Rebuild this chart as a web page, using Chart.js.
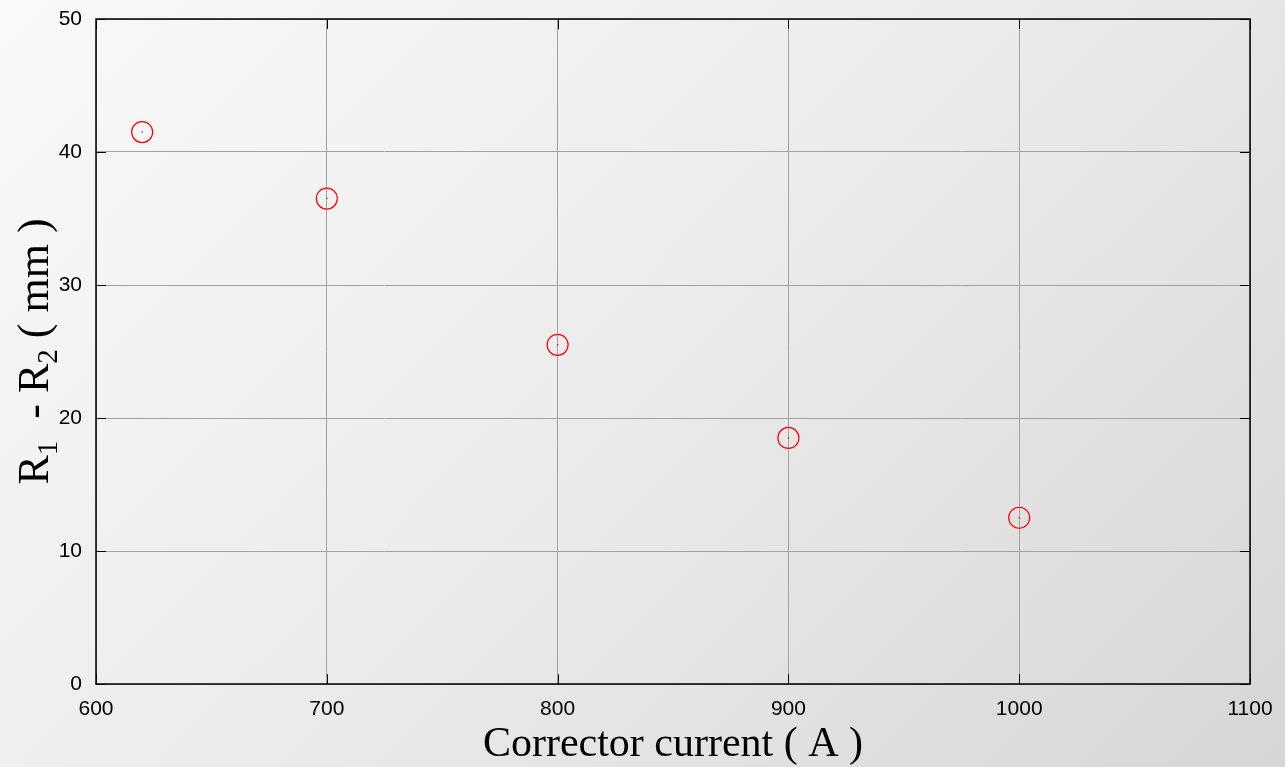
<!DOCTYPE html>
<html>
<head>
<meta charset="utf-8">
<script src="https://cdn.jsdelivr.net/npm/chart.js@4/dist/chart.umd.min.js"></script>
<style>
  html, body { margin: 0; padding: 0; }
  body {
    width: 1285px; height: 767px; overflow: hidden;
    background: linear-gradient(135deg, #f9f9f9 0%, #ebebeb 50%, #d6d6d6 100%);
  }
  #wrap { width: 1285px; height: 767px; position: relative; }
</style>
</head>
<body>
<div id="wrap"><canvas id="chart"></canvas></div>
<script>
const currentA = [620, 700, 800, 900, 1000];
const deltaR = [41.5, 36.5, 25.5, 18.5, 12.5];

const xTicks = [600, 700, 800, 900, 1000, 1100];
const yTicks = [0, 10, 20, 30, 40, 50];

const xTitle = 'Corrector current ( A )';
// y title pieces: [text, isSubscript]
const yTitleParts = [['R', false], ['1', true], ['  - R', false], ['2', true], [' ( mm )', false]];

const points = currentA.map((x, i) => ({ x: x, y: deltaR[i] }));

// frame, inner ticks and rotated y title with subscripts
const framePlugin = {
    id: 'frame',
    afterDraw(chart) {
        const { ctx, chartArea: a, scales } = chart;
        ctx.save();
        ctx.strokeStyle = '#000';
        ctx.lineWidth = 1;
        ctx.beginPath();
        yTicks.forEach(v => {
            const y = Math.round(scales.y.getPixelForValue(v)) + 0.5;
            ctx.moveTo(a.left, y); ctx.lineTo(a.left + 10, y);
            ctx.moveTo(a.right, y); ctx.lineTo(a.right - 10, y);
        });
        xTicks.forEach(v => {
            const x = Math.round(scales.x.getPixelForValue(v)) + 0.5;
            ctx.moveTo(x, a.bottom); ctx.lineTo(x, a.bottom - 10);
            ctx.moveTo(x, a.top); ctx.lineTo(x, a.top + 10);
        });
        ctx.stroke();
        ctx.lineWidth = 1.5;
        ctx.strokeRect(a.left, a.top, a.right - a.left, a.bottom - a.top);

        // y title
        const big = '44px "Liberation Serif", "Times New Roman", serif';
        const small = '29px "Liberation Serif", "Times New Roman", serif';
        let total = 0;
        yTitleParts.forEach(([t, sub]) => {
            ctx.font = sub ? small : big;
            total += ctx.measureText(t).width;
        });
        ctx.translate(48, (a.top + a.bottom) / 2);
        ctx.rotate(-Math.PI / 2);
        ctx.fillStyle = '#000';
        ctx.textBaseline = 'alphabetic';
        let cx = -total / 2;
        yTitleParts.forEach(([t, sub]) => {
            ctx.font = sub ? small : big;
            ctx.fillText(t, cx, sub ? 9 : 0);
            cx += ctx.measureText(t).width;
        });
        ctx.restore();
    }
};

const tickFont = { family: '"Liberation Sans", Arial, Helvetica, sans-serif', size: 21 };

new Chart(document.getElementById('chart').getContext('2d'), {
    type: 'scatter',
    data: {
        datasets: [
            {
                label: 'R1 - R2',
                data: points,
                pointStyle: 'circle',
                pointRadius: 10.5,
                pointHoverRadius: 10.5,
                borderColor: '#ff0000',
                backgroundColor: 'rgba(0,0,0,0)',
                borderWidth: 1.2
            },
            {
                label: 'centre',
                data: points,
                pointRadius: 0.8,
                pointHoverRadius: 0.8,
                borderColor: '#ff0000',
                backgroundColor: '#ff0000',
                borderWidth: 0
            }
        ]
    },
    options: {
        responsive: true,
        maintainAspectRatio: false,
        animation: false,
        layout: { padding: { left: 0, right: 35, top: 19, bottom: 0 } },
        plugins: {
            legend: { display: false },
            tooltip: { enabled: false }
        },
        scales: {
            x: {
                type: 'linear',
                min: 600,
                max: 1100,
                afterBuildTicks: s => { s.ticks = xTicks.map(v => ({ value: v })); },
                afterFit: s => { s.height = 83; s.paddingLeft = 0; s.paddingRight = 0; },
                grid: { color: '#a2a2a2', lineWidth: 1, drawTicks: false },
                border: { display: false },
                ticks: { color: '#000', font: tickFont, padding: 13, maxRotation: 0, callback: v => String(v) },
                title: {
                    display: true,
                    text: xTitle,
                    color: '#000',
                    font: { family: '"Liberation Serif", "Times New Roman", serif', size: 42, lineHeight: 1.05 },
                    padding: { top: 0, bottom: 0 }
                }
            },
            y: {
                type: 'linear',
                min: 0,
                max: 50,
                afterBuildTicks: s => { s.ticks = yTicks.map(v => ({ value: v })); },
                afterFit: s => { s.width = 96; s.paddingTop = 0; s.paddingBottom = 0; },
                grid: { color: '#a2a2a2', lineWidth: 1, drawTicks: false },
                border: { display: false },
                ticks: { color: '#000', font: tickFont, padding: 14, callback: v => String(v) }
            }
        }
    },
    plugins: [framePlugin]
});
</script>
</body>
</html>
